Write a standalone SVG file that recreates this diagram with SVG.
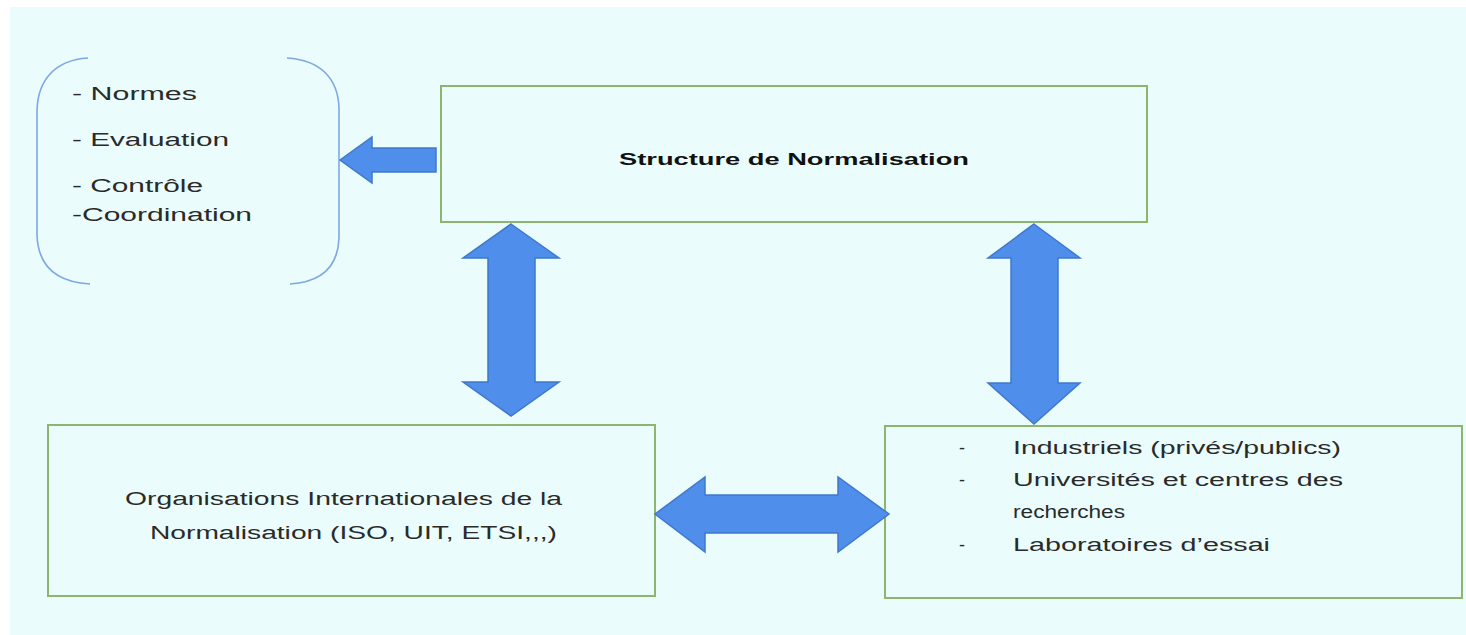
<svg xmlns="http://www.w3.org/2000/svg" width="1466" height="635" viewBox="0 0 1466 635">
<style>
.box{fill:#EAFDFC;stroke:#8DB56E;stroke-width:2}
.arr{fill:#4F8EEB;stroke:#3F78CC;stroke-width:1.5;stroke-linejoin:miter}
.br{fill:none;stroke:#7EA8E2;stroke-width:1.6}
.t{font-family:"Liberation Sans",Arial,sans-serif;font-size:18px;fill:#2A2A2A}
.tb{font-family:"Liberation Sans",Arial,sans-serif;font-size:17px;font-weight:bold;fill:#111}
</style>
<rect x="0" y="0" width="1466" height="635" fill="#FFFFFF"/>
<rect x="10" y="7" width="1456" height="628" fill="#EAFDFC"/>
<g id="missions">
<path class="br" d="M88 58 C55 60 38 80 37 110 L37 235 C38 265 55 282 90 284"/>
<path class="br" d="M287 58 C320 60 338 78 339 108 L339 238 C338 266 322 282 290 284"/>
<text class="t" x="72" y="100" textLength="125" lengthAdjust="spacingAndGlyphs">- Normes</text>
<text class="t" x="72" y="146" textLength="157" lengthAdjust="spacingAndGlyphs">- Evaluation</text>
<text class="t" x="72" y="192" textLength="131" lengthAdjust="spacingAndGlyphs">- Contrôle</text>
<text class="t" x="72" y="221" textLength="180" lengthAdjust="spacingAndGlyphs">-Coordination</text>
</g>
<g id="structure">
<rect class="box" x="441" y="86" width="706" height="136"/>
<text class="tb" x="619" y="165" textLength="350" lengthAdjust="spacingAndGlyphs">Structure de Normalisation</text>
</g>
<g id="organisations">
<rect class="box" x="48" y="425" width="607" height="171"/>
<text class="t" x="125" y="505" textLength="437" lengthAdjust="spacingAndGlyphs">Organisations Internationales de la</text>
<text class="t" x="150" y="539" textLength="407" lengthAdjust="spacingAndGlyphs">Normalisation (ISO, UIT, ETSI,,,)</text>
</g>
<g id="acteurs">
<rect class="box" x="885" y="426" width="577" height="172"/>
<text class="t" x="959" y="454">-</text>
<text class="t" x="1013" y="454" textLength="328" lengthAdjust="spacingAndGlyphs">Industriels (privés/publics)</text>
<text class="t" x="959" y="486">-</text>
<text class="t" x="1013" y="486" textLength="330" lengthAdjust="spacingAndGlyphs">Universités et centres des</text>
<text class="t" x="1013" y="518" textLength="112" lengthAdjust="spacingAndGlyphs">recherches</text>
<text class="t" x="959" y="551">-</text>
<text class="t" x="1013" y="551" textLength="257" lengthAdjust="spacingAndGlyphs">Laboratoires d’essai</text>
</g>
<g id="connectors">
<polygon class="arr" points="340,160 372,137 372,148 436,148 436,172 372,172 372,183"/>
<polygon class="arr" points="511,224 559,258 535,258 535,382 559,382 511,416 463,382 488,382 488,258 463,258"/>
<polygon class="arr" points="1034,224 1080,258 1058,258 1058,383 1080,383 1034,424 988,383 1011,383 1011,258 988,258"/>
<polygon class="arr" points="655,514 705,477 705,495 838,495 838,477 889,514 838,552 838,533 705,533 705,552"/>
</g>
</svg>
